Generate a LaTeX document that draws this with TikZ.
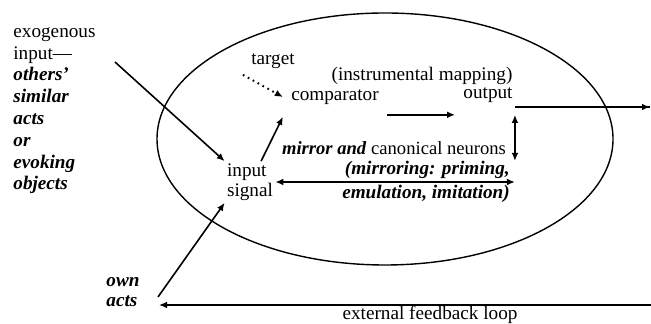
\documentclass[tikz,border=0pt]{standalone}
\usepackage{fontspec}
\setmainfont{Liberation Serif}
\usetikzlibrary{arrows.meta, positioning, calc}
\newcommand{\bfit}[1]{\textbf{\textit{#1}}}

\begin{document}
\begin{tikzpicture}[x=0.5pt, y=-0.5pt,
    lbl/.style={font=\fontsize{9.6}{10.9}\selectfont, inner sep=1pt},
    arr/.style={-{Latex[length=4pt, width=3.4pt]}, line width=0.8pt},
    dblarr/.style={{Latex[length=4pt, width=3.4pt]}-{Latex[length=4pt, width=3.4pt]}, line width=0.8pt}]
    \useasboundingbox (0,0) rectangle (651,324);

    % Brain ellipse
    \draw[line width=0.7pt] (385,139) ellipse [x radius=228, y radius=126];

    % Left column
    \node[lbl, align=left, anchor=north west] (exo) at (11,25) {exogenous\\ input---\\ \bfit{others'}\\ \bfit{similar}\\ \bfit{acts}\\ \bfit{or}\\ \bfit{evoking}\\ \bfit{objects}};
    \node[lbl, align=left, font=\fontsize{9.6}{10}\selectfont] (own) at (123,292) {\bfit{own}\\ \bfit{acts}};

    % Inside the ellipse
    \node[lbl, align=left, font=\fontsize{9.6}{10}\selectfont] (in) at (250,182) {input\\ signal};
    \node[lbl] (target) at (273,61) {target};
    \node[lbl] (comp) at (335,97) {comparator};
    \node[lbl] (instr) at (422,76) {(instrumental mapping)};
    \node[lbl] (out) at (488,95) {output};
    \node[lbl, font=\fontsize{9.3}{10}\selectfont] (mirror) at (394,148) {\bfit{mirror and} canonical neurons};
    \node[lbl, align=right, font=\fontsize{9.6}{12}\selectfont] (mirroring) at (426,182) {\bfit{(mirroring: priming,}\\ \bfit{emulation, imitation)}};

    % Feedback label
    \node[lbl] (ext) at (430,315) {external feedback loop};

    % Free ends
    \coordinate (exofoot) at (115,62);
    \coordinate (ownfoot) at (158,297);
    \coordinate (fbstart) at (651,305);
    \coordinate (fbend) at (159,305);
    \coordinate (outend) at (650,107);

    % Connectors
    \draw[arr] (exofoot) -- (in.north west);
    \draw[arr] (in.62) -- ([xshift=-3pt, yshift=-5pt]comp.south west);
    \draw[arr, dotted, line width=1pt] ([xshift=-3pt, yshift=-2pt]target.south west) -- ([xshift=-3pt]comp.west);
    \draw[arr] ([xshift=3pt, yshift=-4pt]comp.south east) -- ([xshift=-3pt, yshift=-4pt]comp.south east -| out.west);
    \draw[line width=0.8pt] ([yshift=-1pt]out.south east) -- ([yshift=-1pt]out.south east -| outend);
    \draw[arr] ([xshift=-1pt]outend) -- (outend);
    \draw[dblarr] ([yshift=-5pt]out.south east) -- ([yshift=-2pt]out.south east |- mirror.south);
    \draw[dblarr] (in.east) -- (in.east -| out.south east);
    \draw[arr] (ownfoot) -- (in.south west);
    \draw[arr] (fbstart) -- (fbend);
\end{tikzpicture}
\end{document}
